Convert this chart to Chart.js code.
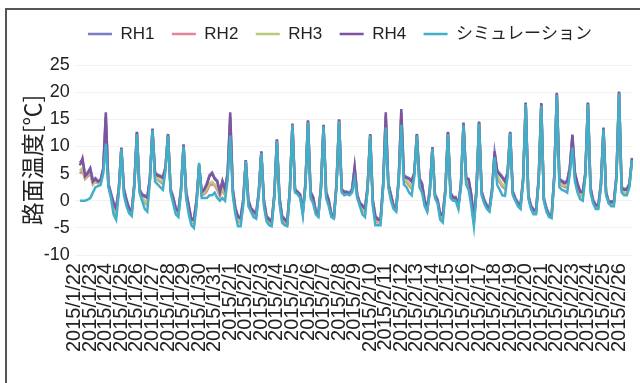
<!DOCTYPE html>
<html>
<head>
<meta charset="utf-8">
<script src="https://cdn.jsdelivr.net/npm/chart.js@4.4.1/dist/chart.umd.min.js"></script>
<style>
  html, body { margin: 0; padding: 0; background: #fff; overflow: hidden; }
  #wrap { position: relative; width: 640px; height: 383px; }
  #frame { position: absolute; left: 5px; top: 8px; width: 700px; height: 420px; border: 2px solid #555; box-sizing: border-box; }
  #myChart { position: absolute; left: 0; top: 0; }
</style>
</head>
<body>
<div id="wrap">
  <div id="frame"></div>
  <canvas id="myChart" width="640" height="383"></canvas>
</div>
<script>
// day labels, one per 6 samples (4 h steps)
const days = [
  '2015/1/22', '2015/1/23', '2015/1/24', '2015/1/25', '2015/1/26', '2015/1/27',
  '2015/1/28', '2015/1/29', '2015/1/30', '2015/1/31', '2015/2/1', '2015/2/2',
  '2015/2/3', '2015/2/4', '2015/2/5', '2015/2/6', '2015/2/7', '2015/2/8',
  '2015/2/9', '2015/2/10', '2015/2/11', '2015/2/12', '2015/2/13', '2015/2/14',
  '2015/2/15', '2015/2/16', '2015/2/17', '2015/2/18', '2015/2/19', '2015/2/20',
  '2015/2/21', '2015/2/22', '2015/2/23', '2015/2/24', '2015/2/25', '2015/2/26'
];
const SAMPLES = 216;
const STEPS_PER_DAY = 6;

const rh1 = [
  null, null, 7.0,
  7.5, 4.8, 5.2, 6.0, 3.8, 4.2,
  3.6, 3.9, 5.8, 15.5, 3.2, 1.4,
  -0.3, -1.3, 2.2, 9.6, 2.2, 0.2,
  -1.3, -1.8, 3.2, 12.5, 2.2, 1.2,
  1.0, 0.7, 4.2, 13.1, 5.2, 4.8,
  4.6, 4.4, 6.2, 12.1, 2.2, 0.7,
  -1.3, -1.8, 2.2, 10.2, 1.7, -0.8,
  -3.3, -3.3, 0.2, 6.3, 1.7, 2.2,
  3.2, 4.7, 5.2, 4.2, 3.7, 1.7,
  3.7, 2.2, 5.2, 15.5, 2.2, -1.3,
  -2.8, -3.1, 0.2, 7.3, 0.2, -1.3,
  -1.8, -2.3, 1.7, 8.9, 0.2, -2.8,
  -3.3, -3.8, 1.2, 11.1, 0.7, -2.8,
  -3.3, -3.8, 2.2, 14.0, 2.2, 1.7,
  1.2, -1.8, 3.2, 14.6, 1.7, 0.7,
  -1.8, -2.3, 2.7, 13.8, 1.7, 0.2,
  -2.3, -2.8, 3.2, 14.8, 2.2, 1.7,
  1.7, 1.4, 2.2, 6.0, 1.2, -0.3,
  -0.8, -1.3, 2.7, 12.1, 0.2, -2.8,
  -3.3, -3.3, 3.2, 15.6, 3.2, 1.2,
  -0.8, -1.3, 4.2, 16.2, 4.7, 4.4,
  4.2, 3.7, 5.2, 12.1, 4.2, 3.2,
  0.2, -1.3, 2.2, 9.7, 1.2, 0.2,
  -2.3, -2.5, 2.2, 12.5, 1.5, 0.7,
  0.7, -0.7, 3.2, 14.2, 4.4, 3.7,
  1.2, -3.3, 2.2, 14.4, 1.8, 0.2,
  -0.8, -1.3, 2.2, 8.9, 5.6, 5.0,
  4.4, 3.7, 5.2, 12.5, 1.8, 0.5,
  -0.3, -0.7, 4.2, 17.9, 1.1, -0.8,
  -1.6, -1.6, 4.2, 17.8, 0.5, -1.3,
  -2.5, -2.5, 4.7, 19.6, 4.1, 3.7,
  3.4, 3.7, 6.2, 12.0, 5.2, 3.2,
  1.8, 1.7, 5.2, 17.9, 2.5, 0.2,
  -0.7, -0.7, 3.2, 13.3, 1.7, -0.1,
  -0.1, -0.1, 4.7, 19.9, 2.5, 2.2,
  2.2, 3.2, 7.9
];

const rh2 = [
  null, null, 5.0,
  5.5, 4.0, 4.5, 5.0, 3.0, 3.5,
  3.2, 3.4, 5.5, 13.5, 2.8, 0.8,
  -1.5, -2.5, 1.8, 9.6, 1.5, -0.5,
  -1.9, -2.4, 2.8, 12.5, 1.8, 0.5,
  -0.3, -0.8, 3.8, 13.1, 4.3, 3.8,
  3.5, 3.1, 5.8, 12.1, 1.8, 0.0,
  -2.0, -2.5, 1.8, 10.2, 1.0, -1.8,
  -4.0, -4.2, -0.5, 6.8, 1.0, 1.2,
  1.8, 2.8, 3.0, 2.8, 2.0, 0.8,
  2.0, 1.0, 4.5, 14.0, 1.5, -2.0,
  -3.8, -4.0, -0.5, 7.4, -0.5, -1.8,
  -2.5, -2.9, 1.2, 9.0, -0.5, -3.4,
  -4.0, -4.3, 0.8, 11.1, 0.0, -3.5,
  -4.0, -4.3, 1.8, 14.1, 1.8, 1.3,
  0.8, -2.3, 2.8, 14.6, 1.0, 0.0,
  -2.2, -2.7, 2.3, 13.8, 1.0, -0.5,
  -2.7, -3.1, 2.8, 14.8, 1.8, 1.2,
  1.3, 1.1, 1.8, 5.0, 0.8, -0.8,
  -1.8, -2.2, 2.2, 12.1, -0.5, -3.8,
  -4.0, -4.0, 2.8, 15.0, 2.8, 0.5,
  -1.2, -1.8, 3.8, 15.5, 3.8, 3.4,
  2.8, 2.2, 4.8, 12.1, 3.2, 2.2,
  -0.5, -1.8, 1.8, 9.7, 0.8, -0.2,
  -3.0, -3.3, 1.8, 12.5, 0.9, 0.2,
  0.2, -1.2, 2.8, 14.2, 3.6, 2.8,
  0.0, -4.1, 1.8, 14.4, 1.3, -0.2,
  -1.2, -1.8, 1.8, 8.5, 4.2, 3.4,
  2.6, 2.2, 4.8, 12.5, 1.3, 0.2,
  -0.8, -1.2, 3.8, 17.9, 0.7, -1.2,
  -2.1, -2.1, 3.8, 17.7, 0.2, -1.8,
  -2.8, -2.9, 4.2, 19.7, 3.2, 2.8,
  2.5, 2.5, 5.5, 11.0, 4.2, 2.2,
  1.0, 0.8, 4.8, 17.9, 1.9, -0.2,
  -1.2, -1.2, 2.8, 13.3, 1.2, -0.4,
  -0.6, -0.6, 4.2, 19.9, 1.9, 1.5,
  1.5, 2.8, 7.6
];

const rh3 = [
  null, null, 5.5,
  6.0, 4.2, 4.8, 5.3, 3.2, 3.6,
  3.3, 3.5, 5.6, 14.0, 2.9, 0.9,
  -1.2, -2.2, 1.9, 9.7, 1.6, -0.3,
  -1.7, -2.2, 2.9, 12.6, 1.9, 0.6,
  0.0, -0.5, 3.9, 13.2, 4.6, 4.0,
  3.8, 3.5, 5.9, 12.2, 1.9, 0.2,
  -1.8, -2.3, 1.9, 10.3, 1.2, -1.5,
  -3.8, -4.0, -0.3, 6.7, 1.2, 1.5,
  2.2, 3.2, 3.5, 3.0, 2.4, 1.0,
  2.5, 1.3, 4.7, 14.5, 1.6, -1.8,
  -3.5, -3.8, -0.3, 7.4, -0.3, -1.7,
  -2.3, -2.7, 1.3, 9.0, -0.3, -3.2,
  -3.8, -4.2, 0.9, 11.2, 0.2, -3.3,
  -3.8, -4.2, 1.9, 14.1, 1.9, 1.4,
  0.9, -2.1, 2.9, 14.7, 1.2, 0.2,
  -2.1, -2.6, 2.4, 13.9, 1.2, -0.3,
  -2.6, -3.0, 2.9, 14.9, 1.9, 1.3,
  1.4, 1.1, 1.9, 5.5, 0.9, -0.6,
  -1.5, -2.0, 2.3, 12.2, -0.3, -3.5,
  -3.8, -3.8, 2.9, 15.5, 2.9, 0.7,
  -1.1, -1.6, 3.9, 16.0, 4.0, 3.7,
  3.2, 2.6, 4.9, 12.2, 3.5, 2.5,
  -0.3, -1.6, 1.9, 9.8, 0.9, 0.0,
  -2.8, -3.0, 1.9, 12.6, 1.0, 0.3,
  0.3, -1.1, 2.9, 14.3, 3.8, 3.2,
  0.3, -3.8, 1.9, 14.5, 1.4, -0.1,
  -1.1, -1.6, 1.9, 8.7, 4.6, 3.8,
  3.0, 2.6, 4.9, 12.6, 1.4, 0.2,
  -0.6, -1.0, 3.9, 18.0, 0.8, -1.1,
  -2.0, -2.0, 3.9, 17.8, 0.2, -1.6,
  -2.8, -2.8, 4.3, 19.8, 3.4, 3.0,
  2.8, 2.8, 5.6, 11.4, 4.5, 2.5,
  1.2, 1.0, 4.9, 18.0, 2.0, -0.1,
  -1.1, -1.1, 2.9, 13.4, 1.3, -0.3,
  -0.5, -0.5, 4.3, 20.0, 2.0, 1.6,
  1.7, 2.9, 7.7
];

const rh4 = [
  null, null, 6.5,
  7.8, 4.5, 5.0, 5.9, 3.5, 4.0,
  3.5, 3.8, 6.0, 16.3, 3.0, 1.2,
  -0.5, -1.5, 2.0, 9.8, 2.0, 0.0,
  -1.5, -2.0, 3.0, 12.7, 2.0, 1.0,
  0.8, 0.5, 4.0, 13.3, 5.0, 4.6,
  4.4, 4.2, 6.0, 12.3, 2.0, 0.5,
  -1.5, -2.0, 2.0, 10.4, 1.5, -1.0,
  -3.5, -3.5, 0.0, 6.5, 1.5, 2.0,
  3.0, 4.5, 5.0, 4.0, 3.5, 1.5,
  3.5, 2.0, 5.0, 16.3, 2.0, -1.5,
  -3.0, -3.3, 0.0, 7.5, 0.0, -1.5,
  -2.0, -2.5, 1.5, 9.1, 0.0, -3.0,
  -3.5, -4.0, 1.0, 11.3, 0.5, -3.0,
  -3.5, -4.0, 2.0, 14.2, 2.0, 1.5,
  1.0, -2.0, 3.0, 14.8, 1.5, 0.5,
  -2.0, -2.5, 2.5, 14.0, 1.5, 0.0,
  -2.5, -3.0, 3.0, 15.0, 2.0, 1.5,
  1.5, 1.2, 2.0, 6.3, 1.0, -0.5,
  -1.0, -1.5, 2.5, 12.3, 0.0, -3.0,
  -3.5, -3.5, 3.0, 16.3, 3.0, 1.0,
  -1.0, -1.5, 4.0, 16.9, 4.5, 4.2,
  4.0, 3.5, 5.0, 12.3, 4.0, 3.0,
  0.0, -1.5, 2.0, 9.9, 1.0, 0.0,
  -2.5, -2.7, 2.0, 12.7, 1.3, 0.5,
  0.5, -0.9, 3.0, 14.4, 4.2, 4.0,
  1.0, -3.5, 2.0, 14.6, 1.6, 0.0,
  -1.0, -1.5, 2.0, 9.1, 5.4, 4.8,
  4.2, 3.5, 5.0, 12.7, 1.6, 0.3,
  -0.5, -0.9, 4.0, 18.1, 0.9, -1.0,
  -1.8, -1.8, 4.0, 18.0, 0.3, -1.5,
  -2.7, -2.7, 4.5, 19.9, 3.9, 3.5,
  3.2, 3.5, 6.0, 12.2, 5.0, 3.0,
  1.6, 1.5, 5.0, 18.1, 2.3, 0.0,
  -0.9, -0.9, 3.0, 13.5, 1.5, -0.3,
  -0.3, -0.3, 4.5, 20.1, 2.3, 2.0,
  2.0, 3.0, 7.8
];

const simulation = [
  null, null, 0.0,
  0.0, 0.0, 0.2, 0.5, 1.5, 2.5,
  2.7, 2.9, 5.0, 10.5, 2.5, 0.5,
  -2.5, -3.5, 1.5, 9.5, 1.0, -1.0,
  -2.3, -2.8, 2.5, 12.3, 1.5, 0.0,
  -1.5, -2.0, 3.5, 13.0, 3.5, 3.0,
  2.5, 2.0, 5.5, 12.0, 1.5, -0.5,
  -2.5, -3.0, 1.5, 10.0, 0.5, -2.5,
  -4.5, -5.0, -1.0, 7.0, 0.5, 0.5,
  0.5, 1.0, 1.0, 1.5, 0.5, 0.0,
  0.5, 0.0, 4.0, 12.0, 1.0, -2.5,
  -4.7, -4.7, -1.0, 7.3, -1.0, -2.0,
  -3.0, -3.3, 1.0, 8.8, -1.0, -3.8,
  -4.5, -4.7, 0.5, 11.0, -0.5, -4.0,
  -4.5, -4.7, 1.5, 14.0, 1.5, 1.2,
  0.5, -2.7, 2.5, 14.5, 0.5, -0.5,
  -2.5, -3.0, 2.0, 13.7, 0.5, -1.0,
  -3.0, -3.3, 2.5, 14.7, 1.5, 1.0,
  1.2, 1.0, 1.5, 4.0, 0.5, -1.0,
  -2.5, -3.0, 2.0, 12.0, -1.0, -4.5,
  -4.5, -4.5, 2.5, 13.5, 2.5, 0.0,
  -1.5, -2.0, 3.5, 14.0, 3.0, 2.5,
  1.5, 1.0, 4.5, 12.0, 2.5, 1.5,
  -1.0, -2.0, 1.5, 9.6, 0.5, -0.5,
  -3.5, -4.0, 1.5, 12.3, 0.5, 0.0,
  0.0, -1.5, 2.5, 14.0, 3.0, 2.0,
  -1.0, -4.7, 1.5, 14.2, 1.0, -0.5,
  -1.5, -2.0, 1.5, 8.0, 2.9, 2.0,
  1.0, 0.9, 4.5, 12.4, 1.0, 0.0,
  -1.0, -1.5, 3.5, 17.8, 0.5, -1.5,
  -2.5, -2.5, 3.5, 17.5, 0.0, -2.0,
  -3.0, -3.2, 4.0, 19.5, 2.5, 2.0,
  1.8, 1.5, 5.0, 9.8, 3.5, 1.5,
  0.3, 0.0, 4.5, 17.8, 1.5, -0.5,
  -1.5, -1.5, 2.5, 13.2, 1.0, -0.5,
  -1.0, -1.0, 4.0, 19.8, 1.5, 1.0,
  1.0, 2.5, 7.5
];

const COLOR_RH1 = '#7b7bc6';
const COLOR_RH2 = '#e0859a';
const COLOR_RH3 = '#b9cc78';
const COLOR_RH4 = '#7d559f';
const COLOR_SIM = '#42afc8';
const LINE_WIDTH = 2.5;
const LEGEND_SHIFT = 15;
const LEGEND_HEIGHT = 57;
const Y_AXIS_WIDTH = 56.7;

// category per sample, label only at the start of each day
var sampleLabels = [];
for (var k = 0; k < SAMPLES; k++) {
  sampleLabels.push(k % STEPS_PER_DAY === 0 ? days[k / STEPS_PER_DAY] : '');
}

function makeDataset(label, data, color, order) {
  return {
    label: label,
    data: data,
    borderColor: color,
    backgroundColor: color,
    borderWidth: LINE_WIDTH,
    pointRadius: 0,
    tension: 0,
    order: order
  };
}

// legend: fixed height, row pushed a little to the right like the original
const legendTweak = {
  id: 'legendTweak',
  beforeInit(chart) {
    const originalFit = chart.legend.fit;
    chart.legend.fit = function () {
      originalFit.call(this);
      this.height = LEGEND_HEIGHT;
    };
  },
  afterLayout(chart) {
    chart.legend.left += LEGEND_SHIFT;
    chart.legend.right += LEGEND_SHIFT;
  }
};

Chart.defaults.font.family = "'Liberation Sans', 'Noto Sans CJK JP', sans-serif";
Chart.defaults.color = '#222';

var ctx = document.querySelector('#myChart');
var roadChart = new Chart(ctx, {
  type: 'line',
  data: {
    labels: sampleLabels,
    datasets: [
      makeDataset('RH1', rh1, COLOR_RH1, 4),
      makeDataset('RH2', rh2, COLOR_RH2, 3),
      makeDataset('RH3', rh3, COLOR_RH3, 2),
      makeDataset('RH4', rh4, COLOR_RH4, 1),
      makeDataset('シミュレーション', simulation, COLOR_SIM, 0)
    ]
  },
  plugins: [legendTweak],
  options: {
    responsive: false,
    animation: false,
    layout: { padding: { left: 18, right: 8, top: 8, bottom: 23 } },
    plugins: {
      legend: {
        position: 'top',
        labels: {
          boxWidth: 24,
          boxHeight: 0,
          padding: 17.4,
          font: { size: 17 },
          sort: (a, b) => a.datasetIndex - b.datasetIndex
        }
      },
      tooltip: { enabled: false }
    },
    scales: {
      x: {
        grid: { display: false, drawTicks: false },
        border: { display: false },
        ticks: {
          autoSkip: false,
          maxRotation: 90,
          minRotation: 90,
          padding: 8,
          font: { size: 20 }
        },
        afterFit(scale) {
          scale.paddingRight = 0;
          scale.paddingLeft = 0;
        }
      },
      y: {
        min: -10,
        max: 25,
        grid: { color: '#f2f2f2', drawTicks: false },
        border: { display: false },
        ticks: { stepSize: 5, padding: 5, font: { size: 18 } },
        title: {
          display: true,
          text: '路面温度[℃]',
          padding: 0,
          font: { size: 23, family: "'Noto Sans CJK JP', sans-serif" }
        },
        afterFit(scale) {
          scale.width = Y_AXIS_WIDTH;
        }
      }
    }
  }
});
</script>
</body>
</html>
